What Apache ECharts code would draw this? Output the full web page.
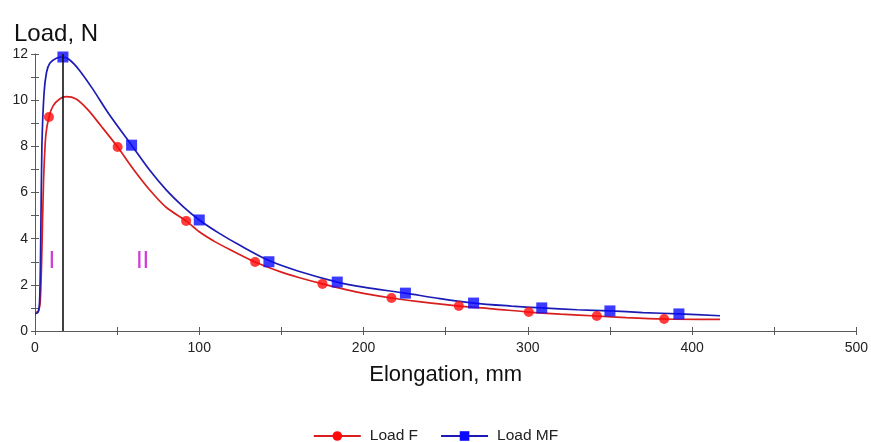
<!DOCTYPE html>
<html>
<head>
<meta charset="utf-8">
<title>Load vs Elongation</title>
<script src="https://cdn.jsdelivr.net/npm/echarts@6/dist/echarts.min.js"></script>
<style>
  html, body { margin: 0; padding: 0; background: #fff; }
  #chart { width: 871px; height: 442px; }
</style>
</head>
<body>
<div id="chart"></div>
<script>
// Smoothed load curves, [elongation mm, load N]
var loadFCurve = [
  [0, 0.8], [2, 0.85], [3.2, 1.3], [4.2, 3.5], [5.2, 6.5], [6.6, 8.5], [8.5, 9.27],
  [11, 9.75], [15, 10.05], [19, 10.15], [25, 10.05], [32, 9.6], [40, 8.9],
  [50.3, 7.97], [60, 7.0], [70, 6.1], [80, 5.35], [92, 4.77], [100, 4.3],
  [110, 3.85], [120, 3.48], [134, 2.99], [150, 2.55], [160, 2.33], [175, 2.04],
  [190, 1.78], [200, 1.63], [217, 1.43], [235, 1.26], [258, 1.08], [280, 0.95],
  [300.6, 0.82], [320, 0.73], [342, 0.65], [360, 0.58], [383, 0.52], [417, 0.5]
];
var loadMFCurve = [
  [0, 0.75], [1.8, 0.8], [2.8, 1.3], [3.5, 4], [4.2, 8], [5.5, 10.3], [7, 11.2],
  [9, 11.6], [13, 11.82], [17, 11.87], [21, 11.75], [27, 11.3], [35, 10.5],
  [45, 9.4], [58.8, 8.05], [70, 6.95], [80, 6.1], [90, 5.4], [100, 4.81],
  [112, 4.24], [125, 3.7], [142.4, 3.05], [160, 2.6], [184, 2.12], [200, 1.9],
  [225.5, 1.64], [245, 1.42], [267, 1.21], [290, 1.08], [308.5, 1.0], [330, 0.92],
  [350, 0.87], [370, 0.8], [392, 0.74], [417, 0.66]
];

// Measured points shown as markers
var loadFPoints = [
  [8.5, 9.27], [50.3, 7.97], [92, 4.77], [134, 2.99], [175, 2.04], [217, 1.43],
  [258, 1.08], [300.6, 0.82], [342, 0.65], [383, 0.52]
];
var loadMFPoints = [
  [17, 11.87], [58.8, 8.05], [100, 4.81], [142.4, 3.0], [184, 2.12], [225.5, 1.64],
  [267, 1.21], [308.5, 1.0], [350, 0.87], [392, 0.74]
];

// Stage boundary and stage labels
var stageBoundary = 17;
var stageLabels = [
  { text: 'I', coord: [10.3, 3.0] },
  { text: 'II', coord: [65.5, 3.0] }
];

var xTickStep = 50, xLabelStep = 100, xMax = 500;
var yTickStep = 1, yLabelStep = 2, yMax = 12;

var axisGray = '#5a5a5a';
var font = '"Liberation Sans", Arial, sans-serif';

var chart = echarts.init(document.getElementById('chart'), null, { renderer: 'canvas' });

function baseX(inside) {
  return {
    type: 'value', min: 0, max: xMax, interval: xTickStep, position: 'bottom',
    axisLine: { show: !inside, onZero: false, lineStyle: { color: axisGray, width: 1 } },
    axisTick: { show: true, inside: inside, length: 4, lineStyle: { color: axisGray } },
    splitLine: { show: false },
    axisLabel: inside ? { show: false } : {
      show: true, margin: 10, color: '#222', fontSize: 14, fontFamily: font,
      formatter: function (v) { return v % xLabelStep === 0 ? String(v) : ''; }
    }
  };
}
function baseY(inside) {
  return {
    type: 'value', min: 0, max: yMax, interval: yTickStep, position: 'left',
    axisLine: { show: !inside, onZero: false, lineStyle: { color: axisGray, width: 1 } },
    axisTick: { show: true, inside: inside, length: 4, lineStyle: { color: axisGray } },
    splitLine: { show: false },
    axisLabel: inside ? { show: false } : {
      show: true, margin: 7, color: '#222', fontSize: 14, fontFamily: font,
      formatter: function (v) { return v % yLabelStep === 0 ? String(v) : ''; }
    }
  };
}

var xMain = baseX(false);
xMain.name = 'Elongation, mm';
xMain.nameLocation = 'middle';
xMain.nameGap = 33;
xMain.nameTextStyle = { fontSize: 22, color: '#111', fontFamily: font };

var option = {
  backgroundColor: '#fff',
  animation: false,
  title: {
    text: 'Load, N', left: 9, top: 17,
    textStyle: { fontSize: 24, fontWeight: 'normal', color: '#111', fontFamily: font }
  },
  grid: { left: 35, right: 11, top: 54, bottom: 111, containLabel: false },
  legend: {
    top: 428, left: 'center', padding: 0, itemWidth: 47, itemHeight: 12, itemGap: 22,
    textStyle: { fontSize: 15.5, color: '#222', fontFamily: font, padding: [0, 0, 0, 4] },
    data: ['Load F', 'Load MF']
  },
  xAxis: [xMain, baseX(true)],
  yAxis: [baseY(false), baseY(true)],
  series: [
    {
      name: 'Load F', type: 'line', data: loadFCurve,
      smooth: 0.3, showSymbol: false,
      symbol: 'circle', symbolSize: 9,
      itemStyle: { color: '#ff0a0a' },
      lineStyle: { color: '#d81e1e', width: 1.7 },
      markLine: {
        silent: true, symbol: 'none', label: { show: false },
        lineStyle: { color: '#111', width: 1.6, type: 'solid' },
        data: [{ xAxis: stageBoundary }]
      },
      markPoint: {
        silent: true, symbol: 'circle', symbolSize: 1,
        itemStyle: { color: 'rgba(0,0,0,0)' },
        label: {
          show: true, position: 'inside', color: '#d23ad2', fontSize: 24,
          fontFamily: font, formatter: function (p) { return p.name; }
        },
        data: stageLabels.map(function (s) { return { name: s.text, coord: s.coord }; })
      },
      z: 2
    },
    {
      name: 'Load MF', type: 'line', data: loadMFCurve,
      smooth: 0.3, showSymbol: false,
      symbol: 'rect', symbolSize: 10,
      itemStyle: { color: '#0a0aff' },
      lineStyle: { color: '#1c1cb4', width: 1.7 },
      z: 2
    },
    {
      name: 'Load F', type: 'scatter', data: loadFPoints,
      symbol: 'circle', symbolSize: 10,
      itemStyle: { color: '#ff0a0a' }, z: 3
    },
    {
      name: 'Load MF', type: 'scatter', data: loadMFPoints,
      symbol: 'rect', symbolSize: 11,
      itemStyle: { color: '#0a0aff' }, z: 4
    }
  ]
};

chart.setOption(option);
</script>
</body>
</html>
